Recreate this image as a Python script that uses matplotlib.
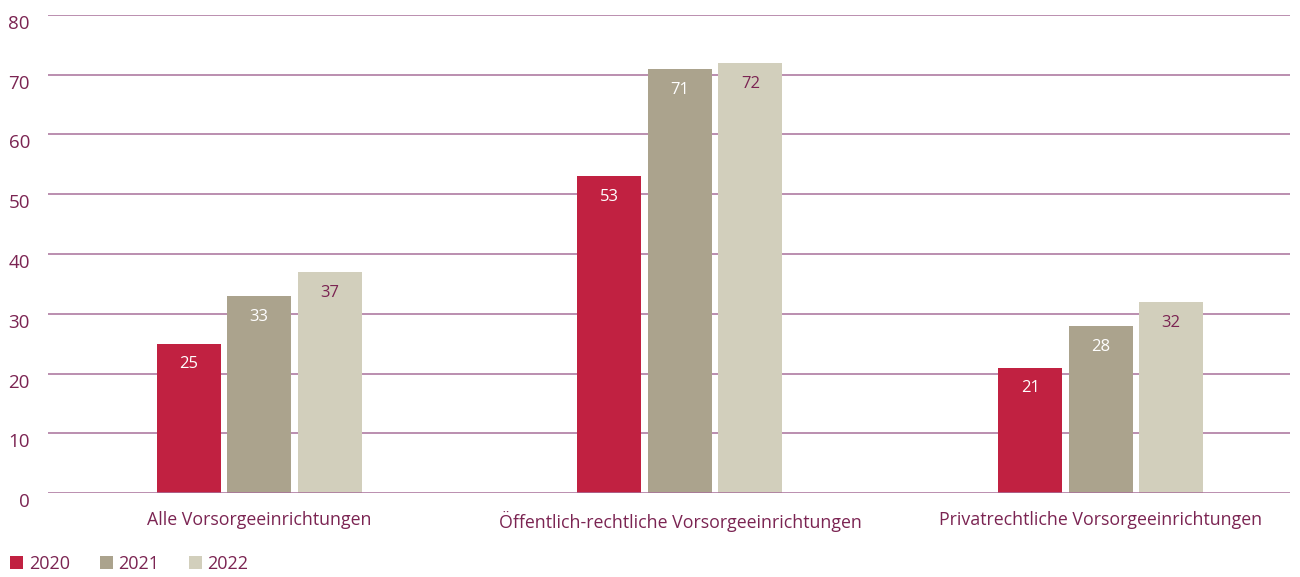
import matplotlib
matplotlib.use("Agg")
import matplotlib.pyplot as plt
from matplotlib.patches import Patch
import numpy as np

categories = ["Alle Vorsorgeeinrichtungen",
              "Öffentlich-rechtliche Vorsorgeeinrichtungen",
              "Privatrechtliche Vorsorgeeinrichtungen"]
years = ["2020", "2021", "2022"]
values_2020 = [25, 53, 21]
values_2021 = [33, 71, 28]
values_2022 = [37, 72, 32]
y_ticks = [0, 10, 20, 30, 40, 50, 60, 70, 80]

series = [values_2020, values_2021, values_2022]
colors = ["#C12141", "#ABA38D", "#D2CFBC"]
label_colors = ["white", "white", "#7B2452"]
text_color = "#7B2452"
grid_color = "#A8709A"

plt.rcParams["font.family"] = ["Open Sans", "DejaVu Sans"]

fig = plt.figure(figsize=(13, 5.77), dpi=100)
ax = fig.add_axes([48 / 1300, 1 - 493 / 577, (1290 - 48) / 1300, (493 - 15) / 577])

x = np.arange(len(categories))
width = 0.152
step = 0.1675
for i, (vals, c, lc) in enumerate(zip(series, colors, label_colors)):
    pos = x + (i - 1) * step
    ax.bar(pos, vals, width=width, color=c, zorder=2, label=years[i])
    for px, v in zip(pos, vals):
        ax.annotate(str(v), (px, v), xytext=(0, -15), textcoords="offset points",
                    ha="center", va="center", color=lc, fontsize=12, zorder=3)

ax.set_xlim(-0.502, 2.450)
ax.set_ylim(0, 80)
ax.set_yticks(y_ticks)
ax.set_yticklabels([str(t) for t in y_ticks])
for t in y_ticks:
    ax.axhline(t, color=grid_color, linewidth=1.1, zorder=1 if t else 4)
ax.tick_params(axis="y", length=0, pad=13, labelsize=13.5, labelcolor=text_color)
for lbl in ax.get_yticklabels():
    lbl.set_horizontalalignment("right")
    lbl.set_verticalalignment("top")
ax.set_xticks(x)
ax.set_xticklabels(categories)
ax.tick_params(axis="x", length=0, pad=13, labelsize=12.8, labelcolor=text_color)
for s in ax.spines.values():
    s.set_visible(False)

handles = [Patch(facecolor=c, edgecolor="none") for c in colors]
fig.legend(handles, years, loc="lower left", bbox_to_anchor=(-4 / 1300, -0.018),
           ncol=3, frameon=False, fontsize=13, labelcolor=text_color,
           handlelength=0.72, handleheight=0.72, handletextpad=0.3,
           columnspacing=1.65, borderpad=0.3)

fig.savefig("out.png", dpi=100)
